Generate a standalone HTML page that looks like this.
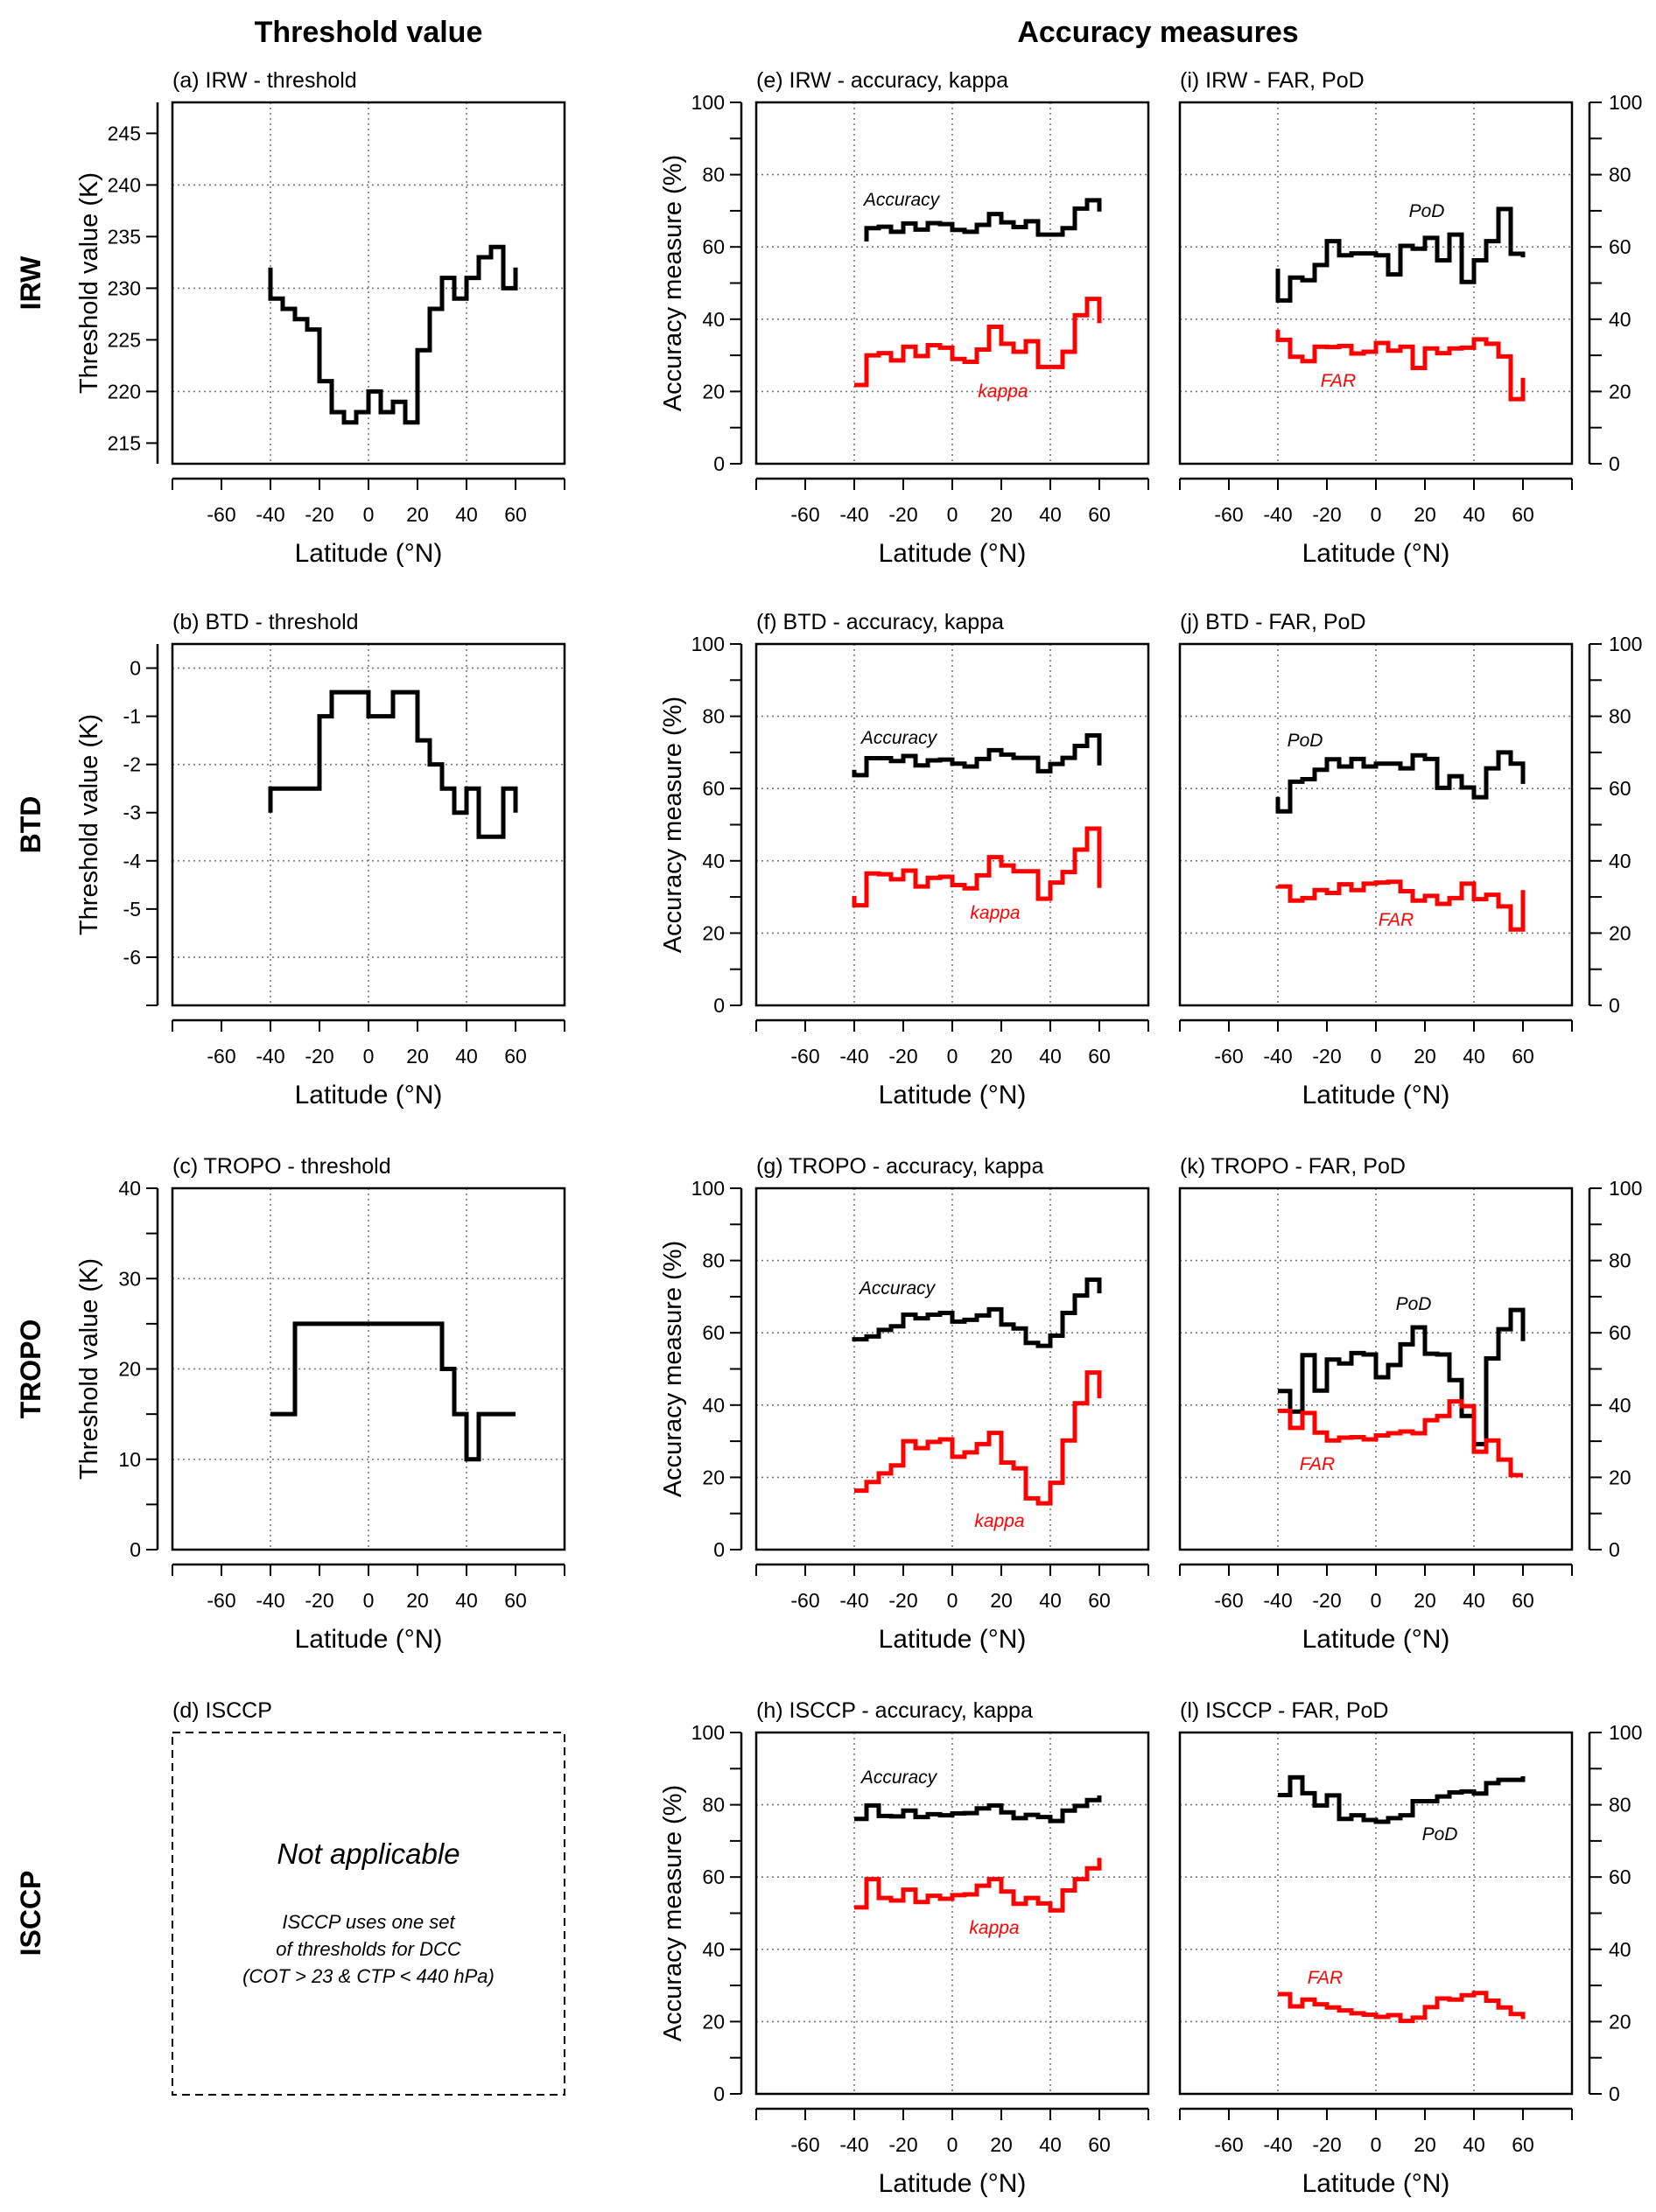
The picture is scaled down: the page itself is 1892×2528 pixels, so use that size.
<!DOCTYPE html>
<html><head><meta charset="utf-8">
<style>
html,body{margin:0;padding:0;background:#fff;}
svg{display:block;font-family:"Liberation Sans",sans-serif;}
</style></head>
<body>
<svg id="fig" width="1892" height="2528" viewBox="0 0 1892 2528" xmlns="http://www.w3.org/2000/svg">
<text x="421" y="48" font-size="34" font-weight="bold" text-anchor="middle">Threshold value</text>
<text x="1323" y="48" font-size="34" font-weight="bold" text-anchor="middle">Accuracy measures</text>
<g id="root"></g>
</svg>
<script>
const latTicks = [-60,-40,-20,0,20,40,60];
const rowNames = ["IRW","BTD","TROPO","ISCCP"];
const irwThreshold = [229,228,227,226,221,218,217,218,220,218,219,217,224,228,231,229,231,233,234,230];
const irwCaps = [232,232];
const btdThreshold = [-2.5,-2.5,-2.5,-2.5,-1,-0.5,-0.5,-0.5,-1,-1,-0.5,-0.5,-1.5,-2,-2.5,-3,-2.5,-3.5,-3.5,-2.5];
const btdCaps = [-3,-3];
const tropoThreshold = [15,15,25,25,25,25,25,25,25,25,25,25,25,25,20,15,10,15,15,15];
const irwTicks = [215,220,225,230,235,240,245];
const btdTicks = [0,-1,-2,-3,-4,-5,-6];
const tropoTicks = [0,10,20,30,40];
const accTicks = [0,20,40,60,80,100];
const irwAccuracy = [65.2,65.6,64.2,66.5,64.8,66.6,66.3,64.7,64.2,66.1,69.1,66.8,65.5,67.1,63.4,63.4,65.2,70.6,72.9];
const irwKappa = [21.8,30.0,30.6,28.6,32.4,29.8,32.8,32.1,29.0,28.2,31.6,37.9,33.2,31.0,33.9,26.8,26.8,31.0,41.1,45.6];
const irwPoD = [45.2,51.5,50.8,55.0,61.6,57.7,58.2,58.2,57.7,52.4,60.3,59.5,62.5,56.3,63.4,50.3,56.3,61.6,70.5,58.1];
const irwFAR = [34.3,29.6,28.4,32.4,32.3,32.6,30.5,31.0,33.4,31.3,32.4,26.5,31.9,30.6,31.9,32.1,34.4,33.2,29.7,17.9];
const btdAccuracy = [63.7,68.4,68.4,67.6,69.0,66.4,67.8,68.0,66.9,66.1,68.2,70.6,69.4,68.5,68.5,64.8,66.8,68.5,71.8,74.7];
const btdKappa = [27.7,36.5,36.3,34.9,37.3,32.9,35.3,35.6,33.3,32.4,36.0,41.0,38.7,37.1,37.1,29.5,34.0,36.9,43.1,48.9];
const btdPoD = [53.7,61.9,62.6,65.2,68.1,66.1,68.2,66.1,66.9,66.9,65.6,69.2,68.2,60.2,63.4,60.3,57.6,65.6,70.0,66.9];
const btdFAR = [32.9,29.0,29.7,31.9,31.1,33.5,31.9,33.7,34.0,34.2,31.6,29.0,30.3,28.1,29.7,33.7,29.4,30.6,27.4,21.0];
const tropoAccuracy = [58.2,59.0,60.8,61.8,65.0,64.0,65.0,65.5,63.1,63.6,64.8,66.5,62.3,61.2,57.2,56.4,59.2,65.5,70.3,74.7];
const tropoKappa = [16.3,18.7,21.1,23.3,30.0,28.1,29.8,30.5,25.7,26.9,29.2,32.3,24.1,22.5,14.2,12.8,18.5,30.2,40.5,49.0];
const tropoPoD = [43.9,38.2,53.8,44.0,52.6,51.5,54.4,54.0,47.7,51.1,56.8,61.5,54.2,54.0,46.9,37.0,29.2,52.9,61.0,66.3];
const tropoFAR = [38.4,33.7,37.8,32.4,30.2,31.0,31.1,30.5,31.6,32.2,32.7,32.2,35.8,37.0,41.0,39.7,27.1,30.2,24.9,20.6];
const isccpAccuracy = [76.1,79.8,76.9,76.8,78.4,76.6,77.4,77.1,77.6,77.7,79.0,79.8,77.9,76.3,77.2,76.6,75.5,78.4,79.7,81.3];
const isccpKappa = [51.6,59.4,54.2,53.5,56.5,53.1,54.8,54.0,55.0,55.2,57.6,59.4,56.0,52.6,54.2,52.7,50.8,56.3,59.4,62.4];
const isccpPoD = [82.7,87.6,83.2,79.8,82.6,76.1,77.1,75.8,75.3,76.3,77.1,81.0,81.0,82.3,83.4,83.7,83.1,86.0,86.9,86.9];
const isccpFAR = [27.6,24.2,26.1,24.8,23.9,23.1,22.3,21.9,21.3,21.8,20.2,21.1,24.0,26.4,26.1,27.3,27.9,25.8,23.9,22.1];
const capsAcc = {irwA:[61.5,69.8],irwK:[21.8,38.9],irwP:[54.0,57.1],irwF:[37.1,23.8],
 btdA:[65.2,66.4],btdK:[30.3,32.5],btdP:[57.7,61.3],btdF:[33.1,31.9],
 trA:[58.8,70.9],trK:[16.3,41.9],trP:[43.9,57.7],trF:[38.4,20.6],
 isA:[76.1,82.6],isK:[51.6,65.3],isP:[82.7,87.9],isF:[27.6,20.7]};

const NS="http://www.w3.org/2000/svg";
const root=document.getElementById('root');
const colX=[197,864,1348], boxW=448, boxH=413;
const rowY=[117,736,1358,1980];
function el(tag,attrs,parent,txt){const e=document.createElementNS(NS,tag);for(const k in attrs)e.setAttribute(k,attrs[k]);if(txt!==undefined)e.textContent=txt;(parent||root).appendChild(e);return e;}

function panel(col,row,ymin,ymax,title){
  const x0=colX[col],y0=rowY[row];
  const g=el('g',{});
  
  
  const sx=v=>x0+(v+80)/160*boxW;
  const sy=v=>y0+boxH-(v-ymin)/(ymax-ymin)*boxH;
  const t=el('text',{x:x0,y:y0-17,'font-size':25},g,title);
  
  
  return {g,x0,y0,sx,sy};
}
function frame(p,gridY){
  const {g,x0,y0,sx,sy}=p;
  [-40,0,40].forEach(v=>{const l=el('line',{x1:sx(v),x2:sx(v),y1:y0,y2:y0+boxH,stroke:'#777','stroke-width':1.6,'stroke-dasharray':'2,4'},g);
    });
  gridY.forEach(v=>{const l=el('line',{x1:x0,x2:x0+boxW,y1:sy(v),y2:sy(v),stroke:'#777','stroke-width':1.6,'stroke-dasharray':'2,4'},g);
    });
  const r=el('rect',{x:x0,y:y0,width:boxW,height:boxH,fill:'none',stroke:'#000','stroke-width':2.5},g);
  
  const ay=y0+boxH+17;
  const ax=el('line',{x1:x0,x2:x0+boxW,y1:ay,y2:ay,stroke:'#000','stroke-width':2.5},g);
  
  for(let v=-80;v<=80;v+=20) el('line',{x1:sx(v),x2:sx(v),y1:ay,y2:ay+13,stroke:'#000','stroke-width':2},g);
  latTicks.forEach(v=>{const t=el('text',{x:sx(v),y:ay+49,'font-size':23,'text-anchor':'middle'},g,String(v));
    });
  const xt=el('text',{x:x0+boxW/2,y:ay+95,'font-size':30,'text-anchor':'middle'},g,'Latitude (°N)');
  
}
function yAxisLeft(p,ticks,minor,title){
  const {g,x0,y0,sy}=p; const ax=x0-17;
  const l=el('line',{x1:ax,x2:ax,y1:y0,y2:y0+boxH,stroke:'#000','stroke-width':2.5},g);
  
  minor.forEach(v=>el('line',{x1:ax-13,x2:ax,y1:sy(v),y2:sy(v),stroke:'#000','stroke-width':2},g));
  ticks.forEach(v=>{el('line',{x1:ax-13,x2:ax,y1:sy(v),y2:sy(v),stroke:'#000','stroke-width':2},g);
    const t=el('text',{x:ax-19,y:sy(v)+8,'font-size':23,'text-anchor':'end'},g,String(v));
    });
  const tx=x0-86, ty=y0+boxH/2;
  const t=el('text',{x:tx,y:ty,'font-size':29,'text-anchor':'middle',transform:`rotate(-90 ${tx} ${ty})`},g,title);
  
}
function yAxisRight(p,ticks,minor){
  const {g,x0,y0,sy}=p; const ax=x0+boxW+20;
  const l=el('line',{x1:ax,x2:ax,y1:y0,y2:y0+boxH,stroke:'#000','stroke-width':2.5},g);
  
  minor.forEach(v=>el('line',{x1:ax,x2:ax+14,y1:sy(v),y2:sy(v),stroke:'#000','stroke-width':2},g));
  ticks.forEach(v=>{el('line',{x1:ax,x2:ax+14,y1:sy(v),y2:sy(v),stroke:'#000','stroke-width':2},g);
    const t=el('text',{x:ax+22,y:sy(v)+8,'font-size':23},g,String(v));
    });
}
function steps(p,vals,start,caps,color,name){
  const {g,sx,sy}=p;
  let x=start;
  let d=`M${sx(x)},${sy(caps?caps[0]:vals[0])}`;
  vals.forEach(v=>{d+=` V${sy(v)} H${sx(x+5)}`;x+=5;});
  if(caps) d+=` V${sy(caps[1])}`;
  const path=el('path',{d,fill:'none',stroke:color,'stroke-width':5,'stroke-linejoin':'miter'},g);
  
  
}
function label(p,x,y,txt,color,name){
  const t=el('text',{x,y,'font-size':21,'font-style':'italic',fill:color,'text-anchor':'middle'},p.g,txt);
  
  
}
function rowLabel(r,txt){
  const y=rowY[r]+boxH/2, x=46;
  const t=el('text',{x,y:y,'font-size':32,'font-weight':'bold','text-anchor':'middle',transform:`rotate(-90 ${x} ${y})`},root,txt);
  
  
}
rowNames.forEach((n,i)=>rowLabel(i,n));

let p=panel(0,0,213,248,'(a) IRW - threshold'); frame(p,[220,230,240]); yAxisLeft(p,irwTicks,[],'Threshold value (K)');
steps(p,irwThreshold,-40,irwCaps,'#000','irw-threshold-line');
p=panel(0,1,-7,0.5,'(b) BTD - threshold'); frame(p,[0,-2,-4,-6]); yAxisLeft(p,btdTicks,[-7],'Threshold value (K)');
steps(p,btdThreshold,-40,btdCaps,'#000','btd-threshold-line');
p=panel(0,2,0,40,'(c) TROPO - threshold'); frame(p,[10,20,30]); yAxisLeft(p,tropoTicks,[5,15,25,35],'Threshold value (K)');
steps(p,tropoThreshold,-40,null,'#000','tropo-threshold-line');
const dg=el('g',{});


el('text',{x:197,y:rowY[3]-17,'font-size':25},dg,'(d) ISCCP');
el('rect',{x:197,y:1980,width:448,height:414,fill:'none',stroke:'#000','stroke-width':2,'stroke-dasharray':'9,6'},dg);
el('text',{x:421,y:2130,'font-size':33,'font-style':'italic','text-anchor':'middle'},dg,'Not applicable');
el('text',{x:421,y:2204,'font-size':22,'font-style':'italic','text-anchor':'middle'},dg,'ISCCP uses one set');
el('text',{x:421,y:2235,'font-size':22,'font-style':'italic','text-anchor':'middle'},dg,'of thresholds for DCC');
el('text',{x:421,y:2266,'font-size':22,'font-style':'italic','text-anchor':'middle'},dg,'(COT > 23 & CTP < 440 hPa)');

const minorAcc=[10,30,50,70,90];
const rows=[
 {n:'IRW',l:['e','i'],A:irwAccuracy,aS:-35,K:irwKappa,P:irwPoD,F:irwFAR,c:['irwA','irwK','irwP','irwF'],
  lab:[[1030,235],[1146,454],[1630,248],[1529,442]]},
 {n:'BTD',l:['f','j'],A:btdAccuracy,aS:-40,K:btdKappa,P:btdPoD,F:btdFAR,c:['btdA','btdK','btdP','btdF'],
  lab:[[1027,850],[1137,1050],[1491,853],[1595,1058]]},
 {n:'TROPO',l:['g','k'],A:tropoAccuracy,aS:-40,K:tropoKappa,P:tropoPoD,F:tropoFAR,c:['trA','trK','trP','trF'],
  lab:[[1025,1479],[1142,1745],[1615,1497],[1505,1680]]},
 {n:'ISCCP',l:['h','l'],A:isccpAccuracy,aS:-40,K:isccpKappa,P:isccpPoD,F:isccpFAR,c:['isA','isK','isP','isF'],
  lab:[[1027,2038],[1136,2210],[1645,2103],[1514,2267]]}
];
rows.forEach((r,i)=>{
  let q=panel(1,i,0,100,`(${r.l[0]}) ${r.n} - accuracy, kappa`); frame(q,[20,40,60,80]);
  yAxisLeft(q,accTicks,minorAcc,'Accuracy measure (%)');
  steps(q,r.A,r.aS,capsAcc[r.c[0]],'#000',r.n.toLowerCase()+'-accuracy-line');
  steps(q,r.K,-40,capsAcc[r.c[1]],'#f00',r.n.toLowerCase()+'-kappa-line');
  label(q,r.lab[0][0],r.lab[0][1],'Accuracy','#000','accuracy-label');
  label(q,r.lab[1][0],r.lab[1][1],'kappa','#f00','kappa-label');
  let s=panel(2,i,0,100,`(${r.l[1]}) ${r.n} - FAR, PoD`); frame(s,[20,40,60,80]);
  yAxisRight(s,accTicks,minorAcc);
  steps(s,r.P,-40,capsAcc[r.c[2]],'#000',r.n.toLowerCase()+'-pod-line');
  steps(s,r.F,-40,capsAcc[r.c[3]],'#f00',r.n.toLowerCase()+'-far-line');
  label(s,r.lab[2][0],r.lab[2][1],'PoD','#000','pod-label');
  label(s,r.lab[3][0],r.lab[3][1],'FAR','#f00','far-label');
});
</script>
</body></html>
